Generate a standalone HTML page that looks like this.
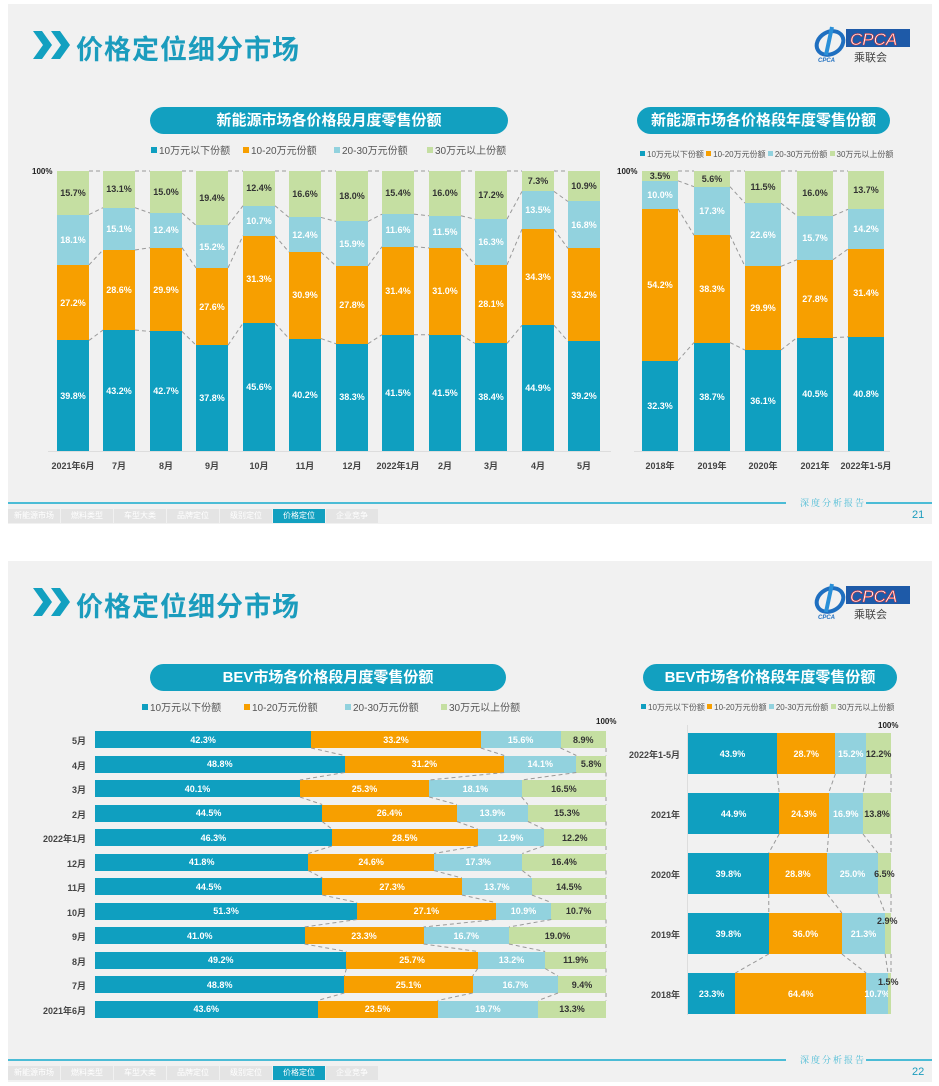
<!DOCTYPE html>
<html><head><meta charset="utf-8"><style>
*{margin:0;padding:0;box-sizing:border-box}
body{width:939px;height:1086px;background:#fff;position:relative;overflow:hidden;font-family:"Liberation Sans","Noto Sans CJK SC",sans-serif}
.slide{position:absolute;left:8px;width:924px;height:520px;background:#f1f1f1}
.a{position:absolute;white-space:nowrap}
.title{font-size:27px;font-weight:bold;color:#1b9cbd;letter-spacing:1px}
.pill{position:absolute;background:#12a0c0;border-radius:14px;color:#fff;font-weight:bold;font-size:15px;text-align:center;line-height:27px;height:27px}
.leg{font-size:10px;color:#555}
.leg2{font-size:8px;color:#555}
.sq{display:inline-block;width:6px;height:6px;margin-right:2px;vertical-align:1px}
.vb{position:absolute;display:flex;flex-direction:column-reverse;top:171px;height:280px}
.hb{position:absolute;display:flex;flex-direction:row}
.vb>div,.hb>div{display:flex;align-items:center;justify-content:center;min-width:0;min-height:0;overflow:visible;font-weight:bold;font-size:9px;white-space:nowrap}
.b{background:#0f9fc0;color:#fff}.o{background:#f79f00;color:#fff}.l{background:#92d2de;color:#fff}.g{background:#c5dfa2;color:#333}
.xl{position:absolute;font-size:9px;font-weight:bold;color:#444;text-align:center;width:70px}
.yl{position:absolute;font-size:9px;font-weight:bold;color:#444;text-align:right;width:80px}
.foot{position:absolute;height:2px;background:#4bbcd6}
.tabs{position:absolute;display:flex;height:14px}
.tabs div{width:52px;background:#e4e4e4;color:#fff;font-size:8px;text-align:center;line-height:14px;margin-right:1px}
.tabs .act{background:#12a0c0}
.rep{font-size:9px;color:#4bbcd6;letter-spacing:2px;font-family:"Noto Serif CJK SC",serif}
.pg{font-size:11px;color:#1b9cbd}
.logo{position:absolute}
</style></head><body>

<!-- SLIDE 1 -->
<div class="slide" style="top:4px"></div>
<svg class="a" style="left:33px;top:31px" width="40" height="30"><polygon points="0,0 9,0 19,14 9,28 0,28 10,14" fill="#12a0c0"/><polygon points="18,0 27,0 37,14 27,28 18,28 28,14" fill="#12a0c0"/></svg>
<div class="a title" style="left:76px;top:28px">价格定位细分市场</div>
<div class="logo" style="left:812px;top:25px">
 <svg width="100" height="40"><ellipse cx="18" cy="18" rx="14" ry="11" fill="none" stroke="#1f6fc0" stroke-width="4" transform="rotate(-30 18 18)"/><path d="M20 2 L14 30" stroke="#2a90d8" stroke-width="4"/><text x="6" y="37" font-size="6" fill="#1f6fc0" font-style="italic" font-weight="bold">CPCA</text>
 <rect x="34" y="4" width="64" height="18" fill="#1e5aa8"/><text x="38" y="20" font-size="17" font-style="italic" fill="#fff" stroke="#d33" stroke-width="0.6" font-family="Liberation Sans">CPCA</text>
 <text x="42" y="36" font-size="11" fill="#444">乘联会</text></svg>
</div>

<div class="pill" style="left:150px;top:107px;width:358px">新能源市场各价格段月度零售份额</div>
<div class="a leg" style="left:151px;top:142px"><span class="sq" style="background:#0f9fc0"></span>10万元以下份额</div>
<div class="a leg" style="left:243px;top:142px"><span class="sq" style="background:#f79f00"></span>10-20万元份额</div>
<div class="a leg" style="left:334px;top:142px"><span class="sq" style="background:#92d2de"></span>20-30万元份额</div>
<div class="a leg" style="left:427px;top:142px"><span class="sq" style="background:#c5dfa2"></span>30万元以上份额</div>
<div class="a" style="left:32px;top:167px;font-size:8px;font-weight:bold;color:#222">100%</div>
<div class="a" style="left:48px;top:451px;width:563px;height:1px;background:#ddd"></div>

<div class="vb c1" style="left:57px;width:32px"><div class="b" style="flex:39.8">39.8%</div><div class="o" style="flex:27.2">27.2%</div><div class="l" style="flex:18.1">18.1%</div><div class="g" style="flex:15.7">15.7%</div></div>
<div class="vb c1" style="left:103px;width:32px"><div class="b" style="flex:43.2">43.2%</div><div class="o" style="flex:28.6">28.6%</div><div class="l" style="flex:15.1">15.1%</div><div class="g" style="flex:13.1">13.1%</div></div>
<div class="vb c1" style="left:150px;width:32px"><div class="b" style="flex:42.7">42.7%</div><div class="o" style="flex:29.9">29.9%</div><div class="l" style="flex:12.4">12.4%</div><div class="g" style="flex:15.0">15.0%</div></div>
<div class="vb c1" style="left:196px;width:32px"><div class="b" style="flex:37.8">37.8%</div><div class="o" style="flex:27.6">27.6%</div><div class="l" style="flex:15.2">15.2%</div><div class="g" style="flex:19.4">19.4%</div></div>
<div class="vb c1" style="left:243px;width:32px"><div class="b" style="flex:45.6">45.6%</div><div class="o" style="flex:31.3">31.3%</div><div class="l" style="flex:10.7">10.7%</div><div class="g" style="flex:12.4">12.4%</div></div>
<div class="vb c1" style="left:289px;width:32px"><div class="b" style="flex:40.2">40.2%</div><div class="o" style="flex:30.9">30.9%</div><div class="l" style="flex:12.4">12.4%</div><div class="g" style="flex:16.6">16.6%</div></div>
<div class="vb c1" style="left:336px;width:32px"><div class="b" style="flex:38.3">38.3%</div><div class="o" style="flex:27.8">27.8%</div><div class="l" style="flex:15.9">15.9%</div><div class="g" style="flex:18.0">18.0%</div></div>
<div class="vb c1" style="left:382px;width:32px"><div class="b" style="flex:41.5">41.5%</div><div class="o" style="flex:31.4">31.4%</div><div class="l" style="flex:11.6">11.6%</div><div class="g" style="flex:15.4">15.4%</div></div>
<div class="vb c1" style="left:429px;width:32px"><div class="b" style="flex:41.5">41.5%</div><div class="o" style="flex:31.0">31.0%</div><div class="l" style="flex:11.5">11.5%</div><div class="g" style="flex:16.0">16.0%</div></div>
<div class="vb c1" style="left:475px;width:32px"><div class="b" style="flex:38.4">38.4%</div><div class="o" style="flex:28.1">28.1%</div><div class="l" style="flex:16.3">16.3%</div><div class="g" style="flex:17.2">17.2%</div></div>
<div class="vb c1" style="left:522px;width:32px"><div class="b" style="flex:44.9">44.9%</div><div class="o" style="flex:34.3">34.3%</div><div class="l" style="flex:13.5">13.5%</div><div class="g" style="flex:7.3">7.3%</div></div>
<div class="vb c1" style="left:568px;width:32px"><div class="b" style="flex:39.2">39.2%</div><div class="o" style="flex:33.2">33.2%</div><div class="l" style="flex:16.8">16.8%</div><div class="g" style="flex:10.9">10.9%</div></div>

<div class="xl" style="left:38px;top:459px">2021年6月</div>
<div class="xl" style="left:84px;top:459px">7月</div>
<div class="xl" style="left:131px;top:459px">8月</div>
<div class="xl" style="left:177px;top:459px">9月</div>
<div class="xl" style="left:224px;top:459px">10月</div>
<div class="xl" style="left:270px;top:459px">11月</div>
<div class="xl" style="left:317px;top:459px">12月</div>
<div class="xl" style="left:363px;top:459px">2022年1月</div>
<div class="xl" style="left:410px;top:459px">2月</div>
<div class="xl" style="left:456px;top:459px">3月</div>
<div class="xl" style="left:503px;top:459px">4月</div>
<div class="xl" style="left:549px;top:459px">5月</div>

<div class="pill" style="left:637px;top:107px;width:253px">新能源市场各价格段年度零售份额</div>
<div class="a leg2" style="left:640px;top:149px"><span class="sq" style="background:#0f9fc0;width:5px;height:5px"></span>10万元以下份额 <span class="sq" style="background:#f79f00;width:5px;height:5px"></span>10-20万元份额 <span class="sq" style="background:#92d2de;width:5px;height:5px"></span>20-30万元份额 <span class="sq" style="background:#c5dfa2;width:5px;height:5px"></span>30万元以上份额</div>
<div class="a" style="left:617px;top:167px;font-size:8px;font-weight:bold;color:#222">100%</div>
<div class="a" style="left:634px;top:451px;width:256px;height:1px;background:#ddd"></div>
<div class="vb c2" style="left:642px;width:36px"><div class="b" style="flex:32.3">32.3%</div><div class="o" style="flex:54.2">54.2%</div><div class="l" style="flex:10.0">10.0%</div><div class="g" style="flex:3.5">3.5%</div></div>
<div class="vb c2" style="left:694px;width:36px"><div class="b" style="flex:38.7">38.7%</div><div class="o" style="flex:38.3">38.3%</div><div class="l" style="flex:17.3">17.3%</div><div class="g" style="flex:5.6">5.6%</div></div>
<div class="vb c2" style="left:745px;width:36px"><div class="b" style="flex:36.1">36.1%</div><div class="o" style="flex:29.9">29.9%</div><div class="l" style="flex:22.6">22.6%</div><div class="g" style="flex:11.5">11.5%</div></div>
<div class="vb c2" style="left:797px;width:36px"><div class="b" style="flex:40.5">40.5%</div><div class="o" style="flex:27.8">27.8%</div><div class="l" style="flex:15.7">15.7%</div><div class="g" style="flex:16.0">16.0%</div></div>
<div class="vb c2" style="left:848px;width:36px"><div class="b" style="flex:40.8">40.8%</div><div class="o" style="flex:31.4">31.4%</div><div class="l" style="flex:14.2">14.2%</div><div class="g" style="flex:13.7">13.7%</div></div>
<div class="xl" style="left:625px;top:459px">2018年</div>
<div class="xl" style="left:677px;top:459px">2019年</div>
<div class="xl" style="left:728px;top:459px">2020年</div>
<div class="xl" style="left:780px;top:459px">2021年</div>
<div class="xl" style="left:831px;top:459px">2022年1-5月</div>

<div class="foot" style="left:8px;top:502px;width:778px"></div>
<div class="a rep" style="left:800px;top:496px">深度分析报告</div>
<div class="foot" style="left:866px;top:502px;width:66px"></div>
<div class="a pg" style="left:912px;top:509px">21</div>
<div class="tabs" style="left:8px;top:509px"><div>新能源市场</div><div>燃料类型</div><div>车型大类</div><div>品牌定位</div><div>级别定位</div><div class="act">价格定位</div><div>企业竞争</div></div>

<!-- SLIDE 2 -->
<div class="slide" style="top:561px;height:521px"></div>
<svg class="a" style="left:33px;top:588px" width="40" height="30"><polygon points="0,0 9,0 19,14 9,28 0,28 10,14" fill="#12a0c0"/><polygon points="18,0 27,0 37,14 27,28 18,28 28,14" fill="#12a0c0"/></svg>
<div class="a title" style="left:76px;top:585px">价格定位细分市场</div>
<div class="logo" style="left:812px;top:582px">
 <svg width="100" height="40"><ellipse cx="18" cy="18" rx="14" ry="11" fill="none" stroke="#1f6fc0" stroke-width="4" transform="rotate(-30 18 18)"/><path d="M20 2 L14 30" stroke="#2a90d8" stroke-width="4"/><text x="6" y="37" font-size="6" fill="#1f6fc0" font-style="italic" font-weight="bold">CPCA</text>
 <rect x="34" y="4" width="64" height="18" fill="#1e5aa8"/><text x="38" y="20" font-size="17" font-style="italic" fill="#fff" stroke="#d33" stroke-width="0.6" font-family="Liberation Sans">CPCA</text>
 <text x="42" y="36" font-size="11" fill="#444">乘联会</text></svg>
</div>

<div class="pill" style="left:150px;top:664px;width:356px">BEV市场各价格段月度零售份额</div>
<div class="a leg" style="left:142px;top:699px"><span class="sq" style="background:#0f9fc0"></span>10万元以下份额</div>
<div class="a leg" style="left:244px;top:699px"><span class="sq" style="background:#f79f00"></span>10-20万元份额</div>
<div class="a leg" style="left:345px;top:699px"><span class="sq" style="background:#92d2de"></span>20-30万元份额</div>
<div class="a leg" style="left:441px;top:699px"><span class="sq" style="background:#c5dfa2"></span>30万元以上份额</div>
<div class="a" style="left:596px;top:717px;font-size:8px;font-weight:bold;color:#222">100%</div>

<div class="hb c3" style="left:95px;top:731px;width:511px;height:17px"><div class="b" style="flex:42.3">42.3%</div><div class="o" style="flex:33.2">33.2%</div><div class="l" style="flex:15.6">15.6%</div><div class="g" style="flex:8.9">8.9%</div></div>
<div class="hb c3" style="left:95px;top:755.5px;width:511px;height:17px"><div class="b" style="flex:48.8">48.8%</div><div class="o" style="flex:31.2">31.2%</div><div class="l" style="flex:14.1">14.1%</div><div class="g" style="flex:5.8">5.8%</div></div>
<div class="hb c3" style="left:95px;top:780px;width:511px;height:17px"><div class="b" style="flex:40.1">40.1%</div><div class="o" style="flex:25.3">25.3%</div><div class="l" style="flex:18.1">18.1%</div><div class="g" style="flex:16.5">16.5%</div></div>
<div class="hb c3" style="left:95px;top:804.5px;width:511px;height:17px"><div class="b" style="flex:44.5">44.5%</div><div class="o" style="flex:26.4">26.4%</div><div class="l" style="flex:13.9">13.9%</div><div class="g" style="flex:15.3">15.3%</div></div>
<div class="hb c3" style="left:95px;top:829px;width:511px;height:17px"><div class="b" style="flex:46.3">46.3%</div><div class="o" style="flex:28.5">28.5%</div><div class="l" style="flex:12.9">12.9%</div><div class="g" style="flex:12.2">12.2%</div></div>
<div class="hb c3" style="left:95px;top:853.5px;width:511px;height:17px"><div class="b" style="flex:41.8">41.8%</div><div class="o" style="flex:24.6">24.6%</div><div class="l" style="flex:17.3">17.3%</div><div class="g" style="flex:16.4">16.4%</div></div>
<div class="hb c3" style="left:95px;top:878px;width:511px;height:17px"><div class="b" style="flex:44.5">44.5%</div><div class="o" style="flex:27.3">27.3%</div><div class="l" style="flex:13.7">13.7%</div><div class="g" style="flex:14.5">14.5%</div></div>
<div class="hb c3" style="left:95px;top:902.5px;width:511px;height:17px"><div class="b" style="flex:51.3">51.3%</div><div class="o" style="flex:27.1">27.1%</div><div class="l" style="flex:10.9">10.9%</div><div class="g" style="flex:10.7">10.7%</div></div>
<div class="hb c3" style="left:95px;top:927px;width:511px;height:17px"><div class="b" style="flex:41.0">41.0%</div><div class="o" style="flex:23.3">23.3%</div><div class="l" style="flex:16.7">16.7%</div><div class="g" style="flex:19.0">19.0%</div></div>
<div class="hb c3" style="left:95px;top:951.5px;width:511px;height:17px"><div class="b" style="flex:49.2">49.2%</div><div class="o" style="flex:25.7">25.7%</div><div class="l" style="flex:13.2">13.2%</div><div class="g" style="flex:11.9">11.9%</div></div>
<div class="hb c3" style="left:95px;top:976px;width:511px;height:17px"><div class="b" style="flex:48.8">48.8%</div><div class="o" style="flex:25.1">25.1%</div><div class="l" style="flex:16.7">16.7%</div><div class="g" style="flex:9.4">9.4%</div></div>
<div class="hb c3" style="left:95px;top:1000.5px;width:511px;height:17px"><div class="b" style="flex:43.6">43.6%</div><div class="o" style="flex:23.5">23.5%</div><div class="l" style="flex:19.7">19.7%</div><div class="g" style="flex:13.3">13.3%</div></div>

<div class="yl" style="left:6px;top:734px">5月</div>
<div class="yl" style="left:6px;top:758.5px">4月</div>
<div class="yl" style="left:6px;top:783px">3月</div>
<div class="yl" style="left:6px;top:807.5px">2月</div>
<div class="yl" style="left:6px;top:832px">2022年1月</div>
<div class="yl" style="left:6px;top:856.5px">12月</div>
<div class="yl" style="left:6px;top:881px">11月</div>
<div class="yl" style="left:6px;top:905.5px">10月</div>
<div class="yl" style="left:6px;top:930px">9月</div>
<div class="yl" style="left:6px;top:954.5px">8月</div>
<div class="yl" style="left:6px;top:979px">7月</div>
<div class="yl" style="left:6px;top:1003.5px">2021年6月</div>

<div class="pill" style="left:643px;top:664px;width:254px">BEV市场各价格段年度零售份额</div>
<div class="a leg2" style="left:641px;top:702px"><span class="sq" style="background:#0f9fc0;width:5px;height:5px"></span>10万元以下份额 <span class="sq" style="background:#f79f00;width:5px;height:5px"></span>10-20万元份额 <span class="sq" style="background:#92d2de;width:5px;height:5px"></span>20-30万元份额 <span class="sq" style="background:#c5dfa2;width:5px;height:5px"></span>30万元以上份额</div>
<div class="a" style="left:878px;top:721px;font-size:8px;font-weight:bold;color:#222">100%</div>
<div class="a" style="left:687px;top:725px;width:1px;height:290px;background:#ddd"></div>

<div class="hb c4" style="left:688px;top:733px;width:203px;height:41px"><div class="b" style="flex:43.9">43.9%</div><div class="o" style="flex:28.7">28.7%</div><div class="l" style="flex:15.2">15.2%</div><div class="g" style="flex:12.2">12.2%</div></div>
<div class="hb c4" style="left:688px;top:793px;width:203px;height:41px"><div class="b" style="flex:44.9">44.9%</div><div class="o" style="flex:24.3">24.3%</div><div class="l" style="flex:16.9">16.9%</div><div class="g" style="flex:13.8">13.8%</div></div>
<div class="hb c4" style="left:688px;top:853px;width:203px;height:41px"><div class="b" style="flex:39.8">39.8%</div><div class="o" style="flex:28.8">28.8%</div><div class="l" style="flex:25.0">25.0%</div><div class="g" style="flex:6.5">6.5%</div></div>
<div class="hb c4" style="left:688px;top:913px;width:203px;height:41px"><div class="b" style="flex:39.8">39.8%</div><div class="o" style="flex:36.0">36.0%</div><div class="l" style="flex:21.3">21.3%</div><div class="g" style="flex:2.9"></div></div>
<div class="hb c4" style="left:688px;top:973px;width:203px;height:41px"><div class="b" style="flex:23.3">23.3%</div><div class="o" style="flex:64.4">64.4%</div><div class="l" style="flex:10.7">10.7%</div><div class="g" style="flex:1.5"></div></div>
<div class="a" style="left:877px;top:916px;font-size:9px;font-weight:bold;color:#333">2.9%</div>
<div class="a" style="left:878px;top:977px;font-size:9px;font-weight:bold;color:#333">1.5%</div>

<div class="yl" style="left:600px;top:748px">2022年1-5月</div>
<div class="yl" style="left:600px;top:808px">2021年</div>
<div class="yl" style="left:600px;top:868px">2020年</div>
<div class="yl" style="left:600px;top:928px">2019年</div>
<div class="yl" style="left:600px;top:988px">2018年</div>

<div class="foot" style="left:8px;top:1059px;width:778px"></div>
<div class="a rep" style="left:800px;top:1053px">深度分析报告</div>
<div class="foot" style="left:866px;top:1059px;width:66px"></div>
<div class="a pg" style="left:912px;top:1066px">22</div>
<div class="tabs" style="left:8px;top:1066px"><div>新能源市场</div><div>燃料类型</div><div>车型大类</div><div>品牌定位</div><div>级别定位</div><div class="act">价格定位</div><div>企业竞争</div></div>

<svg id="ov" width="939" height="1086" style="position:absolute;left:0;top:0;pointer-events:none"></svg>
<script>
(function(){
var ov=document.getElementById('ov'),ns='http://www.w3.org/2000/svg';
function ln(x1,y1,x2,y2){var l=document.createElementNS(ns,'line');l.setAttribute('x1',x1);l.setAttribute('y1',y1);l.setAttribute('x2',x2);l.setAttribute('y2',y2);l.setAttribute('stroke','#999');l.setAttribute('stroke-width','1');l.setAttribute('stroke-dasharray','4,3');ov.appendChild(l);}
['c1','c2'].forEach(function(c){var bs=document.querySelectorAll('.'+c);for(var i=0;i<bs.length-1;i++){var a=bs[i].children,b=bs[i+1].children;for(var k=0;k<4;k++){var ra=a[k].getBoundingClientRect(),rb=b[k].getBoundingClientRect();ln(ra.right,ra.top,rb.left,rb.top);}}});
['c3','c4'].forEach(function(c){var bs=document.querySelectorAll('.'+c);for(var i=0;i<bs.length-1;i++){var a=bs[i].children,b=bs[i+1].children;for(var k=0;k<4;k++){var ra=a[k].getBoundingClientRect(),rb=b[k].getBoundingClientRect();ln(ra.right,ra.bottom,rb.right,rb.top);}}});
})();
</script>
</body></html>
